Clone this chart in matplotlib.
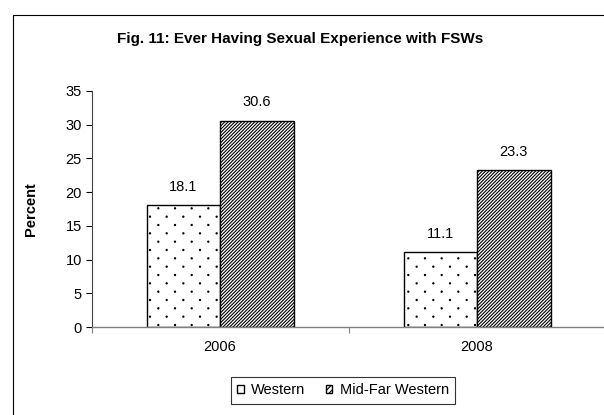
import numpy as np
import matplotlib
matplotlib.use("Agg")
from matplotlib import pyplot as plt
from matplotlib import hatch as mhatch
from matplotlib.path import Path
from matplotlib.patches import Rectangle

# ---- data ----
years = ["2006", "2008"]
western = [18.1, 11.1]
mid_far_western = [30.6, 23.3]
series_names = ["Western", "Mid-Far Western"]
y_ticks = [0, 5, 10, 15, 20, 25, 30, 35]


# sparse staggered dots (excel "dotted" fill), replaces the default '.' hatch
class SparseDots(mhatch.HatchPatternBase):
    def __init__(self, hatch, density):
        self.pts = []
        if hatch.count("."):
            rows, cols = 12, 6
            for r in range(rows + 1):
                if r % 2 == 0:
                    xs = np.arange(cols + 1) / cols
                else:
                    xs = (np.arange(cols) + 0.5) / cols
                for x in xs:
                    self.pts.append((x, r / rows))
        circ = Path.unit_circle()
        self.circ_v = circ.vertices * 0.006
        self.circ_c = circ.codes
        self.num_vertices = len(self.pts) * len(circ.vertices)

    def set_vertices_and_codes(self, vertices, codes):
        if not self.pts:
            return
        np.concatenate([self.circ_v + p for p in self.pts], out=vertices)
        np.concatenate([self.circ_c] * len(self.pts), out=codes)


mhatch._hatch_types = [h for h in mhatch._hatch_types
                       if h is not mhatch.SmallFilledCircles] + [SparseDots]

plt.rcParams["font.family"] = ["Liberation Sans", "DejaVu Sans"]
plt.rcParams["hatch.linewidth"] = 0.8
fs = 10.5

fig = plt.figure(figsize=(6.04, 4.15), dpi=100)
ax = fig.add_axes([0.1515, 0.212, 0.851, 0.569])

x = np.arange(len(years))
w = 0.286
b1 = ax.bar(x - w / 2, western, w, color="white", edgecolor="black",
            hatch=".", linewidth=1.0, label=series_names[0])
b2 = ax.bar(x + w / 2, mid_far_western, w, color="white", edgecolor="black",
            hatch="/" * 10, linewidth=1.0, label=series_names[1])

for bars, vals in [(b1, western), (b2, mid_far_western)]:
    for bar, v in zip(bars, vals):
        ax.annotate(f"{v}", (bar.get_x() + bar.get_width() / 2, v),
                    xytext=(0, 8), textcoords="offset points",
                    ha="center", va="bottom", fontsize=fs)

ax.set_xlim(-0.5, 1.5)
ax.set_ylim(0, 35)
ax.set_yticks(y_ticks)
ax.set_xticks(x)
ax.set_xticklabels(years)
ax.set_xticks([-0.5, 0.5, 1.5], minor=True)
ax.tick_params(axis="x", which="major", length=0, pad=9, labelsize=fs)
ax.tick_params(axis="x", which="minor", length=4, width=0.8, color="#808080")
ax.tick_params(axis="y", length=4, width=0.8, pad=3, labelsize=fs)

ax.spines["top"].set_visible(False)
ax.spines["right"].set_visible(False)
ax.spines["left"].set_color("#404040")
ax.spines["bottom"].set_color("#808080")
ax.spines["left"].set_linewidth(0.8)
ax.spines["bottom"].set_linewidth(1.0)

ax.set_ylabel("Percent", fontsize=fs, fontweight="bold")
ax.yaxis.set_label_coords(-0.105, 0.5)

fig.text(0.497, 0.906, "Fig. 11: Ever Having Sexual Experience with FSWs",
         ha="center", va="center", fontsize=fs + 0.5, fontweight="bold")

leg = fig.legend(handles=[b1, b2], loc="center", bbox_to_anchor=(0.568, 0.06),
                 ncol=2, fontsize=fs, frameon=True, fancybox=False,
                 handlelength=0.45, handleheight=0.45, handletextpad=0.5,
                 columnspacing=1.4, borderpad=0.45, borderaxespad=0)
leg.get_frame().set_edgecolor("black")
leg.get_frame().set_linewidth(0.8)
for h in leg.legend_handles:
    h.set_hatch(None if h.get_hatch() == "." else "/" * 6)

# outer chart border
fig.patches.append(Rectangle((0.0215, -0.1), 1.2, 0.1 + 0.964,
                             transform=fig.transFigure, fill=False,
                             edgecolor="black", linewidth=0.8))

fig.savefig("out.png", dpi=100)
